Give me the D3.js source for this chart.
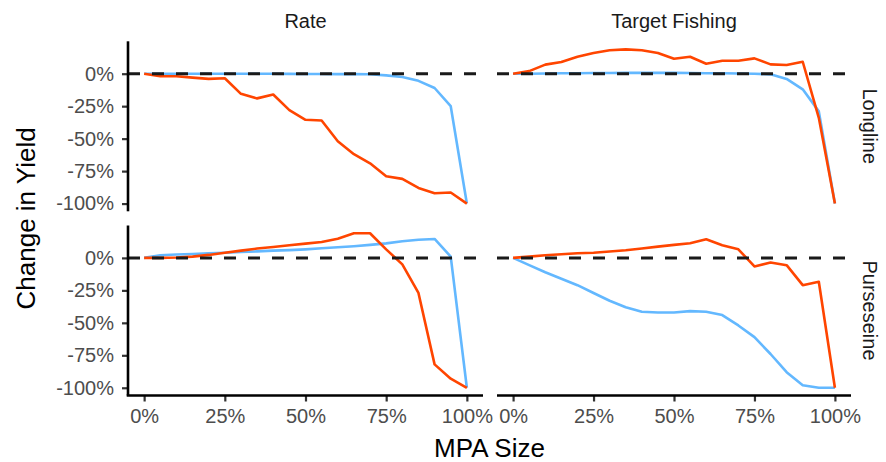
<!DOCTYPE html>
<html>
<head>
<meta charset="utf-8">
<script src="https://cdn.jsdelivr.net/npm/d3@7"></script>
<style>
  html, body { margin: 0; padding: 0; background: #ffffff; }
  svg { display: block; }
  text { font-family: "Liberation Sans", Arial, Helvetica, sans-serif; }
</style>
</head>
<body>
<svg id="chart" width="886" height="462"></svg>
<script>
// ---------- data ----------
const mpaSize = [0, 0.05, 0.10, 0.15, 0.20, 0.25, 0.30, 0.35, 0.40, 0.45, 0.50,
                 0.55, 0.60, 0.65, 0.70, 0.75, 0.80, 0.85, 0.90, 0.95, 1.00];

const facetCols = ["Rate", "Target Fishing"];
const facetRows = ["Longline", "Purseseine"];

// red series
const rateLonglineRed = [0, -0.02, -0.02, -0.03, -0.04, -0.035, -0.155, -0.19, -0.16, -0.28, -0.355,
                         -0.36, -0.52, -0.62, -0.69, -0.79, -0.81, -0.88, -0.92, -0.915, -1.0];
const targetLonglineRed = [0, 0.02, 0.07, 0.09, 0.13, 0.16, 0.18, 0.187, 0.18, 0.16, 0.115,
                           0.13, 0.077, 0.10, 0.10, 0.118, 0.072, 0.067, 0.092, -0.34, -1.0];
const ratePurseseineRed = [0, 0, 0.003, 0.01, 0.023, 0.04, 0.056, 0.072, 0.084, 0.097, 0.11,
                           0.123, 0.148, 0.19, 0.19, 0.066, -0.05, -0.27, -0.82, -0.93, -1.0];
const targetPurseseineRed = [0, 0.01, 0.02, 0.028, 0.036, 0.04, 0.049, 0.059, 0.072, 0.087, 0.10,
                             0.113, 0.143, 0.097, 0.066, -0.066, -0.036, -0.056, -0.21, -0.184, -1.0];

// blue series
const rateLonglineBlue = [0, 0, 0, 0, 0, 0, 0, 0, 0, -0.001, -0.002,
                          -0.002, -0.003, -0.003, -0.004, -0.013, -0.025, -0.055, -0.11, -0.25, -1.0];
const targetLonglineBlue = [0, 0, 0.002, 0.003, 0.004, 0.005, 0.005, 0.006, 0.006, 0.006, 0.006,
                            0.005, 0.004, 0.003, 0.002, 0, -0.005, -0.04, -0.12, -0.29, -1.0];
const ratePurseseineBlue = [0, 0.02, 0.026, 0.03, 0.036, 0.04, 0.046, 0.05, 0.056, 0.06, 0.066,
                            0.074, 0.082, 0.09, 0.10, 0.112, 0.128, 0.14, 0.146, 0.01, -1.0];
const targetPurseseineBlue = [0, -0.056, -0.11, -0.16, -0.21, -0.27, -0.33, -0.38, -0.415, -0.42, -0.42,
                              -0.41, -0.415, -0.44, -0.52, -0.61, -0.74, -0.88, -0.98, -1.0, -1.0];

const yTickValues = [0, -0.25, -0.5, -0.75, -1];
const yTickLabels = ["0%", "-25%", "-50%", "-75%", "-100%"];
const xTickValues = [0, 0.25, 0.5, 0.75, 1];
const xTickLabels = ["0%", "25%", "50%", "75%", "100%"];

const redColor = "#FF4500";
const blueColor = "#63B8FF";

// ---------- layout ----------
const svg = d3.select("#chart");
const colX = [[128, 483], [497, 851]];
const rowY = [[41.3, 211.3], [225.5, 395.5]];

const panelData = {
  "Rate|Longline": [rateLonglineBlue, rateLonglineRed],
  "Target Fishing|Longline": [targetLonglineBlue, targetLonglineRed],
  "Rate|Purseseine": [ratePurseseineBlue, ratePurseseineRed],
  "Target Fishing|Purseseine": [targetPurseseineBlue, targetPurseseineRed]
};

const allVals = [].concat(...Object.values(panelData).flat());
const yMin = d3.min(allVals), yMax = d3.max(allVals);
const yPad = (yMax - yMin) * 0.05;
const xPad = 0.05;

const tickFont = 20;

facetRows.forEach((row, ri) => {
  facetCols.forEach((col, ci) => {
    const [x0, x1] = colX[ci];
    const [y0, y1] = rowY[ri];
    const x = d3.scaleLinear().domain([0 - xPad, 1 + xPad]).range([x0, x1]);
    const y = d3.scaleLinear().domain([yMin - yPad, yMax + yPad]).range([y1, y0]);
    const g = svg.append("g");
    const [blue, red] = panelData[col + "|" + row];

    const line = d3.line().x((d, i) => x(mpaSize[i])).y(d => y(d));
    g.append("path").datum(blue).attr("d", line)
      .attr("fill", "none").attr("stroke", blueColor).attr("stroke-width", 2.6)
      .attr("stroke-linejoin", "round");
    g.append("path").datum(red).attr("d", line)
      .attr("fill", "none").attr("stroke", redColor).attr("stroke-width", 2.6)
      .attr("stroke-linejoin", "round");

    // zero reference
    g.append("line")
      .attr("x1", x0).attr("x2", x1).attr("y1", y(0)).attr("y2", y(0))
      .attr("stroke", "#1a1a1a").attr("stroke-width", 3)
      .attr("stroke-dasharray", "12,12");

    // y axis on left column
    if (ci === 0) {
      const ax = g.append("g").attr("transform", `translate(${x0},0)`)
        .call(d3.axisLeft(y).tickValues(yTickValues)
          .tickFormat((d, i) => yTickLabels[i]).tickSize(6).tickSizeOuter(0).tickPadding(8));
      ax.select(".domain").remove();
      ax.selectAll(".tick line").attr("stroke", "#333").attr("stroke-width", 2.2);
      ax.selectAll(".tick text").attr("fill", "#4d4d4d")
        .style("font-size", tickFont + "px")
        .style("font-family", '"Liberation Sans", Arial, sans-serif');
      g.append("line").attr("x1", x0).attr("x2", x0).attr("y1", y0).attr("y2", y1)
        .attr("stroke", "#000").attr("stroke-width", 2.6);
    }
    // x axis on bottom row
    if (ri === facetRows.length - 1) {
      const ax = g.append("g").attr("transform", `translate(0,${y1})`)
        .call(d3.axisBottom(x).tickValues(xTickValues)
          .tickFormat((d, i) => xTickLabels[i]).tickSize(6).tickSizeOuter(0).tickPadding(7));
      ax.select(".domain").remove();
      ax.selectAll(".tick line").attr("stroke", "#333").attr("stroke-width", 2.2);
      ax.selectAll(".tick text").attr("fill", "#4d4d4d")
        .style("font-size", tickFont + "px")
        .style("font-family", '"Liberation Sans", Arial, sans-serif');
      g.append("line").attr("x1", x0 - (ci === 0 ? 1.3 : 0)).attr("x2", x1).attr("y1", y1).attr("y2", y1)
        .attr("stroke", "#000").attr("stroke-width", 2.6);
    }
    // top strip
    if (ri === 0) {
      svg.append("text").attr("x", (x0 + x1) / 2).attr("y", 28)
        .attr("text-anchor", "middle").attr("fill", "#1a1a1a")
        .style("font-size", "20px").text(col);
    }
    // right strip
    if (ci === facetCols.length - 1) {
      svg.append("text")
        .attr("transform", `translate(863,${(y0 + y1) / 2}) rotate(90)`)
        .attr("text-anchor", "middle").attr("fill", "#1a1a1a")
        .style("font-size", "20px").text(row);
    }
  });
});

// axis titles
svg.append("text")
  .attr("transform", `translate(35,${(rowY[0][0] + rowY[1][1]) / 2}) rotate(-90)`)
  .attr("text-anchor", "middle").attr("fill", "#000")
  .style("font-size", "26px").text("Change in Yield");
svg.append("text")
  .attr("x", (colX[0][0] + colX[1][1]) / 2).attr("y", 457)
  .attr("text-anchor", "middle").attr("fill", "#000")
  .style("font-size", "26px").text("MPA Size");
</script>
</body>
</html>
